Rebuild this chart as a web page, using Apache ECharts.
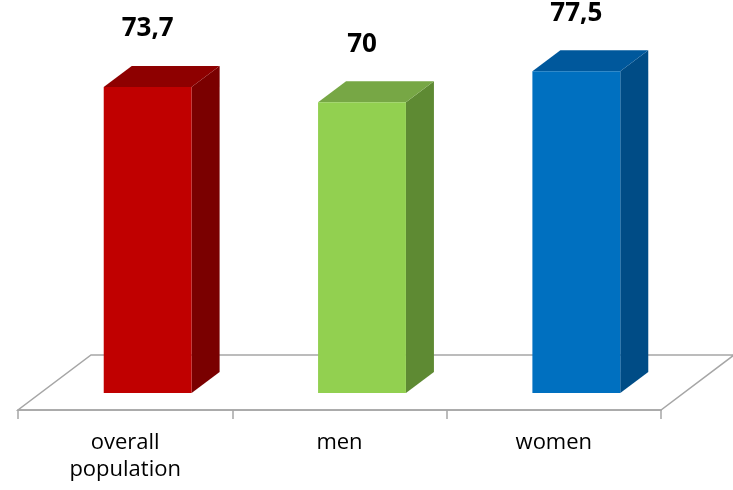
<!DOCTYPE html>
<html>
<head>
<meta charset="utf-8">
<style>html,body{margin:0;padding:0;background:#fff;}#c{width:733px;height:490px;}</style>
<script src="https://cdn.jsdelivr.net/npm/echarts@6/dist/echarts.min.js"></script>
</head>
<body>
<div id="c"></div>
<script>
var categories = ['overall\npopulation', 'men', 'women'];
var values = [73.7, 70, 77.5];

var palette = [
  {front: '#C00000', top: '#8E0000', side: '#7A0000'},
  {front: '#92D050', top: '#77A745', side: '#5E8A33'},
  {front: '#0070C0', top: '#00589C', side: '#004C86'}
];

var chart = echarts.init(document.getElementById('c'));
var DX = 28, DY = -21;       // bar depth
var OX = 22.5, OY = -17;     // bar offset into floor
var FX = 73, FY = -55;       // floor depth

chart.setOption({
  animation: false,
  grid: {left: 18, right: 72, bottom: 80, top: 36.3},
  xAxis: {
    type: 'category',
    data: categories,
    axisLine: {show: true, lineStyle: {color: '#A6A6A6', width: 1.5}},
    axisTick: {show: true, length: 9, lineStyle: {color: '#A6A6A6', width: 1.5}},
    axisLabel: {color: '#000', fontFamily: 'Open Sans', fontSize: 22, lineHeight: 27, margin: 19},
    z: 1
  },
  yAxis: {type: 'value', min: 0, max: 90, show: false, splitLine: {show: false}},
  series: [
    {
      type: 'custom',
      z: 0,
      data: [0],
      renderItem: function (params, api) {
        var cs = params.coordSys;
        var y0 = cs.y + cs.height;
        var x0 = cs.x, x1 = cs.x + cs.width;
        return {
          type: 'polygon',
          shape: {points: [[x0, y0], [x1, y0], [x1 + FX, y0 + FY], [x0 + FX, y0 + FY]]},
          style: {fill: '#fff', stroke: '#A6A6A6', lineWidth: 1.5}
        };
      }
    },
    {
      type: 'custom',
      z: 2,
      data: values.map(function (v, i) { return [i, v]; }),
      renderItem: function (params, api) {
        var i = api.value(0), v = api.value(1);
        var b = api.coord([i, 0]);
        var t = api.coord([i, v]);
        var w = api.size([1, 0])[0] * 0.41;
        var cx = b[0] + OX;
        var xl = cx - w / 2, xr = cx + w / 2;
        var yb = b[1] + OY, yt = t[1] + OY;
        var c = palette[i];
        var lab = String(v).replace('.', ',');
        return {
          type: 'group',
          children: [
            {type: 'polygon', shape: {points: [[xr, yb], [xr + DX, yb + DY], [xr + DX, yt + DY], [xr, yt]]}, style: {fill: c.side}},
            {type: 'polygon', shape: {points: [[xl, yt], [xr, yt], [xr + DX, yt + DY], [xl + DX, yt + DY]]}, style: {fill: c.top}},
            {type: 'rect', shape: {x: xl, y: yt, width: w, height: yb - yt}, style: {fill: c.front}},
            {type: 'text', x: cx, y: yt - 58, style: {text: lab, fill: '#000', font: 'bold 26px "Open Sans"', align: 'center', verticalAlign: 'middle'}}
          ]
        };
      }
    }
  ]
});
</script>
</body>
</html>
